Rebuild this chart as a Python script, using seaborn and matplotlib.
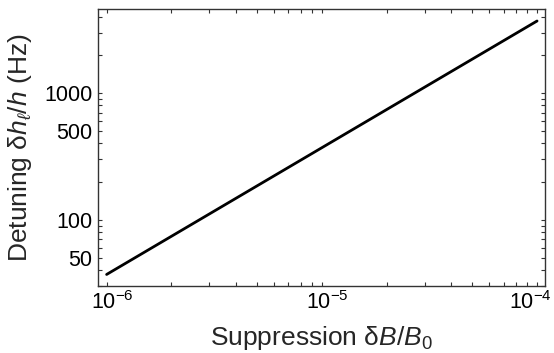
import numpy as np
import pandas as pd
import matplotlib
matplotlib.use("Agg")
import matplotlib.pyplot as plt
import matplotlib.ticker as mticker
import matplotlib.transforms as mtransforms
import seaborn as sns

# Detuning vs. field suppression (linear relation, log-log axes)
suppression = [1e-6, 1e-5, 1e-4]
detuning_hz = [37.0, 370.0, 3700.0]

x_ticks = [1e-6, 1e-5, 1e-4]
x_tick_labels = [r"10$^{-6}$", r"10$^{-5}$", r"10$^{-4}$"]
y_ticks = [50, 100, 500, 1000]
y_tick_labels = ["50", "100", "500", "1000"]

sns.set_style("ticks")
plt.rcParams["font.family"] = ["Liberation Sans", "DejaVu Sans"]
plt.rcParams["mathtext.fontset"] = "custom"
plt.rcParams["mathtext.rm"] = "Liberation Sans"
plt.rcParams["mathtext.it"] = "Liberation Sans:italic"
plt.rcParams["mathtext.bf"] = "Liberation Sans:bold"
plt.rcParams["axes.unicode_minus"] = False

df = pd.DataFrame({"suppression": suppression, "detuning": detuning_hz})

fig = plt.figure(figsize=(5.54, 3.53), dpi=100)
ax = fig.add_axes([0.1769, 0.1898, 0.8069, 0.7847])

sns.lineplot(data=df, x="suppression", y="detuning", ax=ax,
             color="black", linewidth=2.0)

ax.set_xscale("log")
ax.set_yscale("log")
ax.set_xlim(10 ** -6.04, 10 ** -3.963)
ax.set_ylim(30, 4600)

ax.xaxis.set_major_locator(mticker.FixedLocator(x_ticks))
ax.xaxis.set_major_formatter(mticker.FixedFormatter(x_tick_labels))
ax.xaxis.set_minor_locator(mticker.LogLocator(base=10, subs=np.arange(2, 10)))
ax.xaxis.set_minor_formatter(mticker.NullFormatter())

ax.yaxis.set_major_locator(mticker.FixedLocator(y_ticks))
ax.yaxis.set_major_formatter(mticker.FixedFormatter(y_tick_labels))
ax.yaxis.set_minor_locator(mticker.LogLocator(base=10, subs=np.arange(1, 10)))
ax.yaxis.set_minor_formatter(mticker.NullFormatter())

for which in ("major", "minor"):
    ax.tick_params(axis="both", which=which, direction="in", length=3.2,
                   width=0.8, color="#333333", top=True, right=True)
ax.tick_params(axis="both", which="major", labelsize=15.5, pad=4,
               labelcolor="black")

# centre the mantissa "10" on each tick (exponent hangs right); the last
# label is nudged so that it stays inside the canvas
label_shift_px = [6, 6, -7]
for lbl, dx in zip(ax.get_xticklabels(), label_shift_px):
    shift = mtransforms.ScaledTranslation(dx / 100, 0, fig.dpi_scale_trans)
    lbl.set_transform(lbl.get_transform() + shift)

for sp in ax.spines.values():
    sp.set_color("#333333")
    sp.set_linewidth(1.0)

ax.set_xlabel(r"Suppression δ$B$/$B_0$", fontsize=19, labelpad=7)
ax.set_ylabel(r"Detuning δ$h_\ell$/$h$ (Hz)", fontsize=19, labelpad=7)

fig.savefig("out.png", dpi=100)
